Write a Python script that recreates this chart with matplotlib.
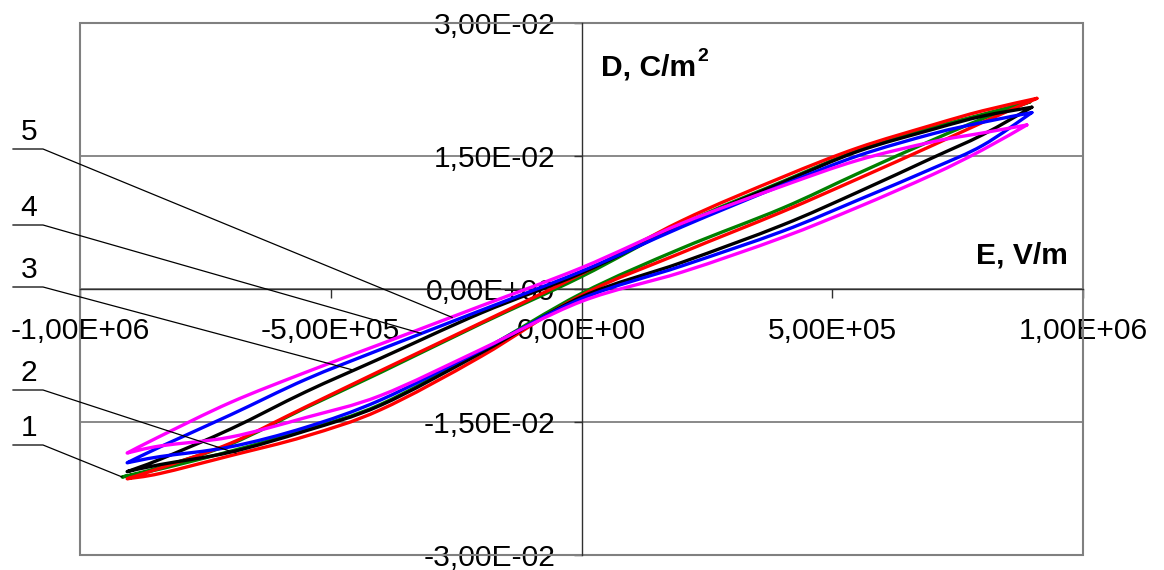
import matplotlib
matplotlib.use('Agg')
import matplotlib.pyplot as plt
from matplotlib.patches import Rectangle, PathPatch
from matplotlib.path import Path
from matplotlib.ticker import FuncFormatter

plt.rcParams['font.family'] = ['Liberation Sans', 'DejaVu Sans']

# ------------------------------------------------------------------------
# Data: D(E) hysteresis loops, E in V/m, D in C/m^2
# ------------------------------------------------------------------------
# inner field points of each branch, from the right tip to the left tip
E_grid = [8.0e5, 7.0e5, 5.5e5, 4.0e5, 2.0e5, 0.0, -2.0e5, -4.0e5, -5.5e5, -7.0e5, -8.4e5]

curve_labels = ['1', '2', '3', '4', '5']
curve_colors = ['#008000', '#ff0000', '#000000', '#0000ff', '#ff00ff']

# loop tips (E, D) at the positive and negative field maximum
tip_pos_E = [8.94e5, 9.08e5, 8.98e5, 8.98e5, 8.88e5]
tip_pos_D = [0.0211, 0.0215, 0.0205, 0.0199, 0.0185]
tip_neg_E = [-9.16e5, -9.06e5, -9.06e5, -9.06e5, -9.06e5]
tip_neg_D = [-0.0212, -0.0214, -0.0206, -0.0196, -0.0185]

# descending branch (E going + -> -), at E_grid
D_up_1 = [0.0197, 0.0182, 0.0156, 0.0121, 0.0073, 0.0014, -0.0039, -0.0094, -0.0134, -0.0175, -0.0201]
D_up_2 = [0.0201, 0.0185, 0.0159, 0.0126, 0.0077, 0.0017, -0.0038, -0.0092, -0.0133, -0.0174, -0.0202]
D_up_3 = [0.0195, 0.0180, 0.0155, 0.0120, 0.0072, 0.0018, -0.0027, -0.0078, -0.0116, -0.0158, -0.0192]
D_up_4 = [0.0188, 0.0175, 0.0150, 0.0117, 0.0070, 0.0020, -0.0024, -0.0068, -0.0102, -0.0142, -0.0178]
D_up_5 = [0.0176, 0.0166, 0.0145, 0.0116, 0.0074, 0.0024, -0.0019, -0.0062, -0.0094, -0.0128, -0.0166]

# ascending branch (E going - -> +), at reversed E_grid
D_dn_1 = [-0.0203, -0.0183, -0.0159, -0.0130, -0.0070, -0.0005, 0.0046, 0.0091, 0.0130, 0.0168, 0.0192]
D_dn_2 = [-0.0208, -0.0188, -0.0166, -0.0136, -0.0076, -0.0007, 0.0041, 0.0087, 0.0124, 0.0162, 0.0188]
D_dn_3 = [-0.0198, -0.0184, -0.0160, -0.0131, -0.0072, -0.0009, 0.0030, 0.0072, 0.0109, 0.0148, 0.0174]
D_dn_4 = [-0.0189, -0.0178, -0.0156, -0.0125, -0.0069, -0.0011, 0.0026, 0.0065, 0.0100, 0.0136, 0.0162]
D_dn_5 = [-0.0177, -0.0167, -0.0145, -0.0120, -0.0068, -0.0014, 0.0019, 0.0058, 0.0092, 0.0129, 0.0157]

D_up = [D_up_1, D_up_2, D_up_3, D_up_4, D_up_5]
D_dn = [D_dn_1, D_dn_2, D_dn_3, D_dn_4, D_dn_5]

x_ticks = [-1.0e6, -5.0e5, 0.0, 5.0e5, 1.0e6]
y_ticks = [-0.03, -0.015, 0.0, 0.015, 0.03]

# point on each loop that the numbered leader line points at
leader_E = [-9.16e5, -6.89e5, -4.58e5, -3.20e5, -2.58e5]
leader_D = [-0.0212, -0.0185, -0.0091, -0.0050, -0.0032]


def smooth_codes(xs, ys):
    """Bezier (Catmull-Rom) segments through the points, like Excel's smoothed line."""
    pts = list(zip(xs, ys))
    verts = []
    for i in range(len(pts) - 1):
        p0 = pts[i - 1] if i > 0 else pts[i]
        p1, p2 = pts[i], pts[i + 1]
        p3 = pts[i + 2] if i + 2 < len(pts) else pts[i + 1]
        c1 = (p1[0] + (p2[0] - p0[0]) / 6, p1[1] + (p2[1] - p0[1]) / 6)
        c2 = (p2[0] - (p3[0] - p1[0]) / 6, p2[1] - (p3[1] - p1[1]) / 6)
        verts += [c1, c2, p2]
    return verts


# ------------------------------------------------------------------------
# Figure
# ------------------------------------------------------------------------
W, H = 1164, 570
FS = 21.6
fig = plt.figure(figsize=(W / 100, H / 100), dpi=100)
ax = fig.add_axes([80 / W, 15 / H, 1003 / W, 532 / H])
ax.set_xlim(-1.0e6, 1.0e6)
ax.set_ylim(-0.03, 0.03)

# gray frame + horizontal gridlines (Excel style)
ax.add_patch(Rectangle((0, 0), 1, 1, transform=ax.transAxes, fill=False,
                       edgecolor='#808080', lw=1.5, clip_on=False, zorder=1))
ax.set_axisbelow(True)
ax.grid(axis='y', color='#808080', lw=1.3)

# axes crossing at zero
for side in ['top', 'right']:
    ax.spines[side].set_visible(False)
for side in ['left', 'bottom']:
    ax.spines[side].set_position(('data', 0))
    ax.spines[side].set_color('#303030')
    ax.spines[side].set_linewidth(1.0)

fmt = FuncFormatter(lambda v, pos: f'{v:.2E}'.replace('.', ','))
ax.set_xticks(x_ticks)
ax.set_yticks(y_ticks)
ax.xaxis.set_major_formatter(fmt)
ax.yaxis.set_major_formatter(fmt)
ax.tick_params(axis='x', direction='out', length=6.5, width=1, color='#303030',
               pad=14, labelsize=FS)
ax.tick_params(axis='y', direction='out', length=6, width=1, color='#303030',
               pad=13, labelsize=FS)

# loops: descending branch then ascending branch, sharp at the tips
for i in range(len(curve_labels)):
    up_E = [tip_pos_E[i]] + E_grid + [tip_neg_E[i]]
    up_D = [tip_pos_D[i]] + D_up[i] + [tip_neg_D[i]]
    dn_E = [tip_neg_E[i]] + E_grid[::-1] + [tip_pos_E[i]]
    dn_D = [tip_neg_D[i]] + D_dn[i] + [tip_pos_D[i]]
    verts = [(up_E[0], up_D[0])] + smooth_codes(up_E, up_D) + smooth_codes(dn_E, dn_D)
    codes = [Path.MOVETO] + [Path.CURVE4] * (len(verts) - 1)
    ax.add_patch(PathPatch(Path(verts, codes), fill=False, edgecolor=curve_colors[i],
                           lw=2.4, joinstyle='round', capstyle='round', zorder=3 + i))

# axis titles
fig.text(601 / W, 1 - 75 / H, 'D, C/m', fontsize=FS, fontweight='bold', va='baseline')
fig.text(697 / W, 1 - 61 / H, '2', fontsize=14, fontweight='bold', va='baseline')
fig.text(976 / W, 1 - 263 / H, 'E, V/m', fontsize=FS, fontweight='bold', va='baseline')

# numbered leader lines (pixel rows from the top of the picture)
rows_px = [445, 390, 287, 225, 149]
inv = ax.transData.inverted()
for i in range(len(curve_labels)):
    x0, y0 = inv.transform((13, H - rows_px[i]))
    x1, _ = inv.transform((43, H - rows_px[i]))
    ax.plot([x0, x1, leader_E[i]], [y0, y0, leader_D[i]], color='black', lw=0.9,
            clip_on=False, zorder=10)
    xt, yt = inv.transform((29, H - rows_px[i] + 9))
    ax.text(xt, yt, curve_labels[i], fontsize=FS, ha='center', va='baseline',
            clip_on=False)

fig.savefig('out.png', dpi=100)
